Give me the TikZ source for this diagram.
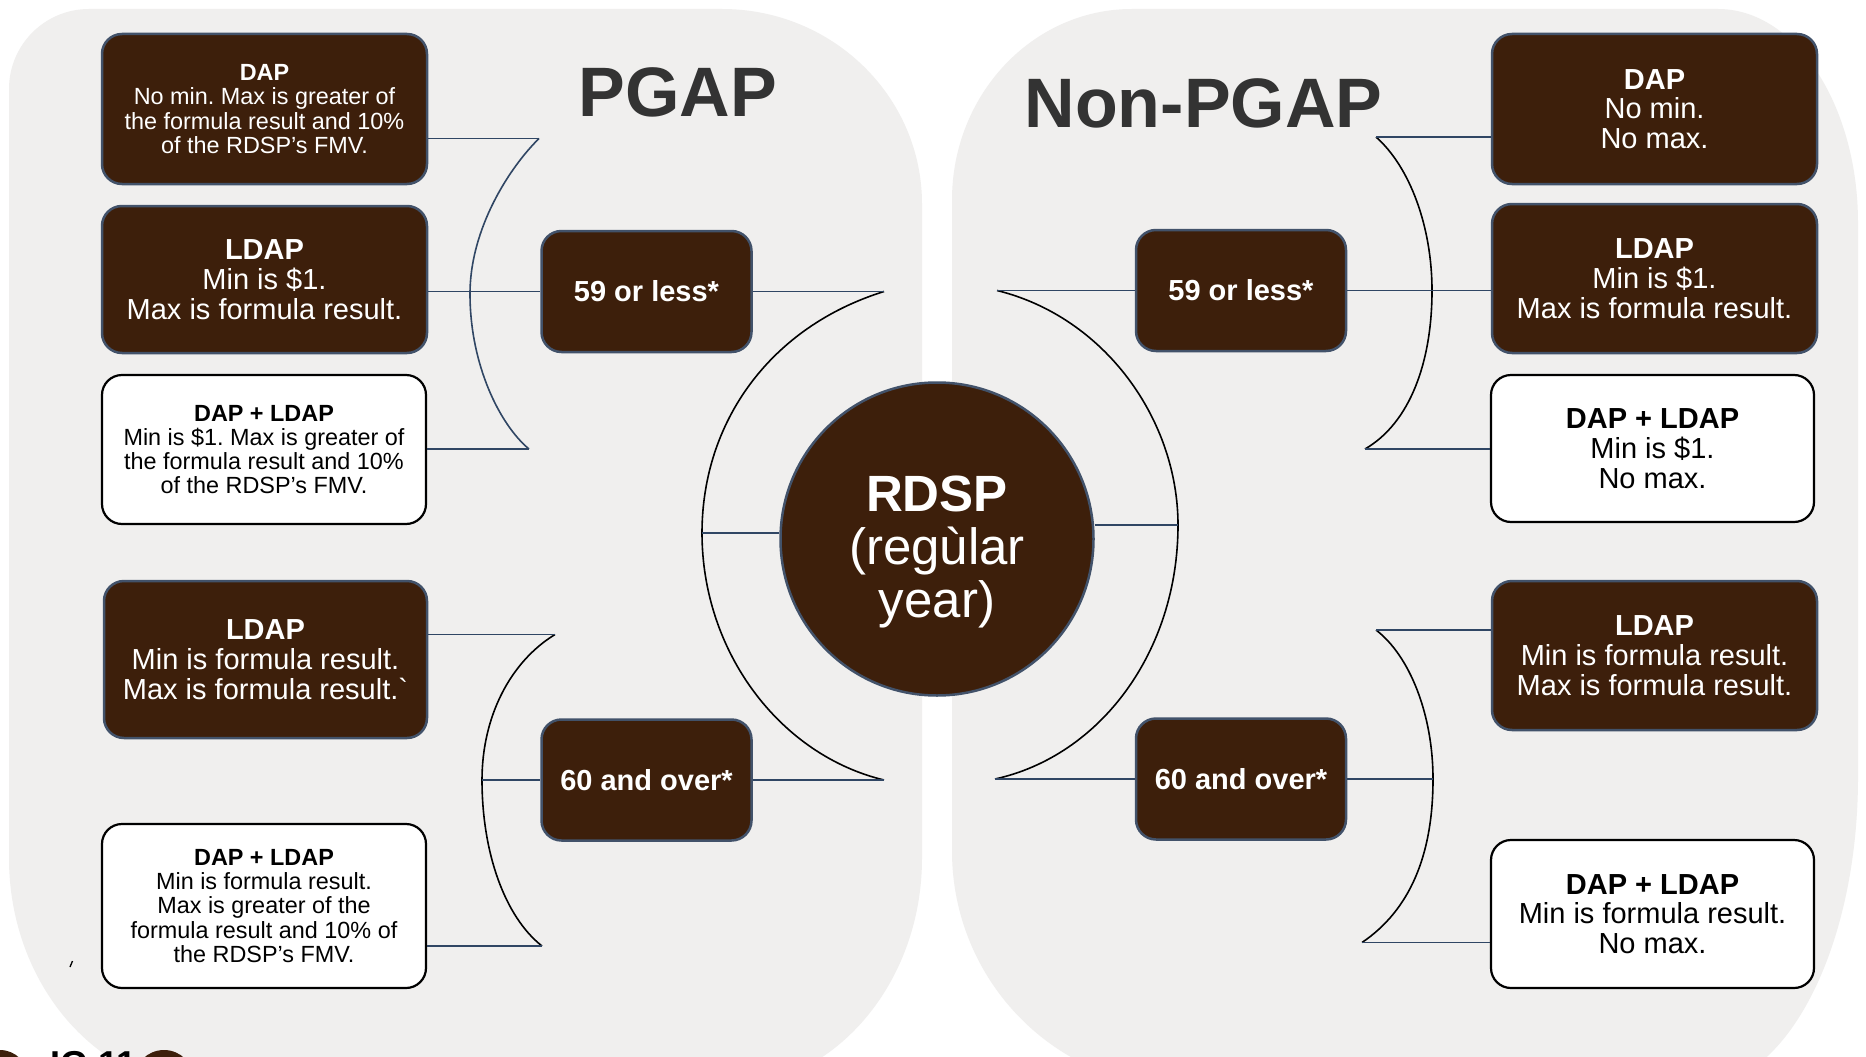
\documentclass[tikz,border=0pt]{standalone}
\usepackage{fontspec}
\setmainfont{Liberation Sans}
\definecolor{panel}{RGB}{240,239,238}
\definecolor{boxbrown}{RGB}{61,31,11}
\definecolor{edge}{RGB}{66,82,106}
\definecolor{navy}{RGB}{48,70,100}
\definecolor{titlegray}{RGB}{51,51,51}
\newcommand\gravechar{\XeTeXglyph\XeTeXcharglyph"60\relax}
\frenchspacing
\begin{document}
\begin{tikzpicture}[x=1pt,y=-1pt,
  darkbox/.style={rectangle, rounded corners=20pt, fill=boxbrown, draw=edge, line width=2.5pt, text=white, align=center, inner sep=0pt},
  whitebox/.style={rectangle, rounded corners=20pt, fill=white, draw=black, line width=2.2pt, text=black, align=center, inner sep=0pt},
  smalltxt/.style={font=\fontsize{23.4}{24.2}\selectfont\frenchspacing},
  bigtxt/.style={font=\fontsize{29}{29.8}\selectfont\frenchspacing},
  agebox/.style={darkbox, font=\fontsize{29}{30}\selectfont\bfseries, minimum width=210pt, minimum height=121pt},
  conn/.style={draw=navy, line width=1.8pt},
  brk/.style={draw=black, line width=1.6pt},
  titletxt/.style={font=\fontsize{70}{70}\selectfont\bfseries, text=titlegray, inner sep=0pt}
]
\useasboundingbox (0,0) rectangle (1866,1057);
\fill[white] (0,0) rectangle (1866,1057);

% panels
\fill[panel] (9,89) .. controls (9,44.8) and (44.8,9) .. (89,9) -- (722,9)
  .. controls (832.4,9) and (922,96.4) .. (922,204) -- (922,858)
  .. controls (922,985) and (832.4,1088) .. (722,1088) -- (209,1088)
  .. controls (98.6,1088) and (9,985) .. (9,858) -- cycle;
\fill[panel] (952,200) .. controls (952,94.6) and (1032.6,9) .. (1132,9) -- (1718,9)
  .. controls (1795.3,9) and (1858,104.9) .. (1858,223) -- (1858,777)
  .. controls (1858,948) and (1786.3,1087) .. (1698,1087) -- (1184,1087)
  .. controls (1056,1087) and (952,981) .. (952,851) -- cycle;

% titles
\node[titletxt] (tpgap) at (678,92.5) {PGAP};
\node[titletxt] (tnon) at (1203.5,103) {Non-PGAP};

% left column
\node[darkbox, smalltxt, minimum width=325pt, minimum height=150pt] (dapL) at (264.5,109)
  {\textbf{DAP}\\No min. Max is greater of\\the formula result and 10\%\\of the RDSP’s FMV.};
\node[darkbox, bigtxt, minimum width=325pt, minimum height=147pt] (ldapL) at (264.5,279.5)
  {\textbf{LDAP}\\Min is \$1.\\Max is formula result.};
\node[whitebox, smalltxt, minimum width=324pt, minimum height=149pt] (wL1) at (264,449.5)
  {\textbf{DAP + LDAP}\\Min is \$1. Max is greater of\\the formula result and 10\%\\of the RDSP’s FMV.};
\node[darkbox, bigtxt, minimum width=323pt, minimum height=157pt] (ldapL60) at (265.5,659.5)
  {\textbf{LDAP}\\Min is formula result.\\Max is formula result.\gravechar};
\node[whitebox, smalltxt, minimum width=324pt, minimum height=164pt] (wL60) at (264,906)
  {\textbf{DAP + LDAP}\\Min is formula result.\\Max is greater of the\\formula result and 10\% of\\the RDSP’s FMV.};

% middle
\node[agebox] (n59L) at (646.5,291.5) {59 or less*};
\node[agebox] (n60L) at (646.5,780) {60 and over*};
\node[agebox] (n59R) at (1241,290.5) {59 or less*};
\node[agebox] (n60R) at (1241,779) {60 and over*};

\node[circle, fill=boxbrown, draw=edge, line width=2.5pt, minimum size=313pt, inner sep=0pt] (rdsp) at (937,539) {};
\node[text=white, align=center, font=\fontsize{51}{53}\selectfont, inner sep=0pt] (rdspt) at (937,552)
  {\textbf{RDSP}\\(regùlar\\year)};

% right column
\node[darkbox, bigtxt, minimum width=325pt, minimum height=150pt] (dapR) at (1654.5,109)
  {\textbf{DAP}\\No min.\\No max.};
\node[darkbox, bigtxt, minimum width=325pt, minimum height=149pt] (ldapR) at (1654.5,278.5)
  {\textbf{LDAP}\\Min is \$1.\\Max is formula result.};
\node[whitebox, bigtxt, minimum width=323pt, minimum height=147pt] (wR1) at (1652.5,448.5)
  {\textbf{DAP + LDAP}\\Min is \$1.\\No max.};
\node[darkbox, bigtxt, minimum width=325pt, minimum height=149pt] (ldapR60) at (1654.5,655.5)
  {\textbf{LDAP}\\Min is formula result.\\Max is formula result.};
\node[whitebox, bigtxt, minimum width=323pt, minimum height=148pt] (wR60) at (1652.5,914)
  {\textbf{DAP + LDAP}\\Min is formula result.\\No max.};

% bracket coordinates
\coordinate (lt1) at (539,138.5);
\coordinate (lt2) at (470,294);
\coordinate (lt3) at (529,449);
\coordinate (bigLt) at (884,291.5);
\coordinate (bigLm) at (702,533);
\coordinate (bigLb) at (884,780);
\coordinate (lb1) at (555,634.5);
\coordinate (lb2) at (482,780);
\coordinate (lb3) at (542,946);
\coordinate (bigRt) at (997,290.5);
\coordinate (bigRm) at (1178,525);
\coordinate (bigRb) at (995,779);
\coordinate (rt1) at (1376,137);
\coordinate (rt2) at (1432,290.5);
\coordinate (rt3) at (1365,449);
\coordinate (rb1) at (1376,630);
\coordinate (rb2) at (1433,779);
\coordinate (rb3) at (1362,942.5);

% brackets
\draw[conn, line width=1.6pt] (lt1) .. controls (510,167) and (470,228) .. (lt2) .. controls (470,365) and (500,425) .. (lt3);
\draw[brk] (bigLt) .. controls (770,327) and (702,422) .. (bigLm) .. controls (702,652) and (780,755) .. (bigLb);
\draw[brk] (lb1) .. controls (510,662) and (482,717) .. (lb2) .. controls (482,853) and (505,917) .. (lb3);
\draw[brk] (bigRt) .. controls (1105,317) and (1178,420) .. (bigRm) .. controls (1178,652) and (1100,756) .. (bigRb);
\draw[brk] (rt1) .. controls (1410,167) and (1432,227) .. (rt2) .. controls (1432,362) and (1410,423) .. (rt3);
\draw[brk] (rb1) .. controls (1410,656) and (1433,715) .. (rb2) .. controls (1433,855) and (1410,910) .. (rb3);

% connectors
\draw[conn] (dapL.east |- lt1) -- (lt1);
\draw[conn] (ldapL.east |- n59L.west) -- (n59L.west);
\draw[conn] (wL1.east |- lt3) -- (lt3);
\draw[conn] (n59L.east) -- (bigLt);
\draw[conn] (bigLm) -- (bigLm -| rdsp.west);
\draw[conn] (n60L.east) -- (bigLb);
\draw[conn] (ldapL60.east |- lb1) -- (lb1);
\draw[conn] (lb2) -- (n60L.west);
\draw[conn] (wL60.east |- lb3) -- (lb3);
\draw[conn] (rdsp.east |- bigRm) -- (bigRm);
\draw[conn] (bigRt) -- (n59R.west);
\draw[conn] (n59R.east) -- (n59R.east -| ldapR.west);
\draw[conn] (rt1) -- (rt1 -| dapR.west);
\draw[conn] (rt3) -- (rt3 -| wR1.west);
\draw[conn] (bigRb) -- (n60R.west);
\draw[conn] (n60R.east) -- (rb2);
\draw[conn] (rb1) -- (rb1 -| ldapR60.west);
\draw[conn] (rb3) -- (rb3 -| wR60.west);

% stray mark
\draw[black, line width=1.3pt] (72.5,961) -- (70,967);

% cut-off logo at the bottom edge
\begin{scope}
\clip (0,0) rectangle (1866,1057);
\fill[boxbrown] (0,1078) circle[radius=28];
\fill[boxbrown] (164,1080) circle[radius=30];
\node[anchor=base west, font=\fontsize{36}{36}\selectfont\bfseries, inner sep=0pt] (logo) at (50,1076) {IG 11};
\end{scope}
\end{tikzpicture}
\end{document}
